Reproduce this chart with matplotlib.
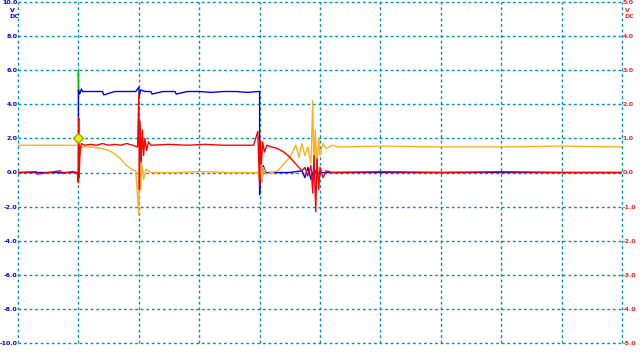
import matplotlib.pyplot as plt

# time in divisions, volts on the left scale (right scale is half)
blue_t = [0, 0.99, 1.0, 1.0, 1.02, 1.05, 1.07, 1.2, 1.4, 1.42, 1.6, 1.8, 1.95, 2.0, 2.01, 2.03, 2.1, 2.2, 2.22, 2.4,
          2.6, 2.62, 2.8, 3.0, 3.2, 3.4, 3.6, 3.8, 3.98, 4.0, 4.0, 4.02, 4.04, 4.06, 4.1, 4.5, 4.7, 4.75, 4.8,
          4.85, 4.9, 4.95, 5.0, 6.0, 8.0, 10]
blue_v = [0, 0, -0.5, 4.85, 4.6, 4.9, 4.75, 4.75, 4.75, 4.55, 4.75, 4.75, 4.75, 5.0, 4.5, 4.85, 4.75, 4.75, 4.6, 4.75,
          4.75, 4.6, 4.75, 4.75, 4.7, 4.75, 4.75, 4.7, 4.75, 4.75, -1.3, 0.8, -0.5, 0.4, 0, 0, 0.1, -0.3, 0.3,
          -0.4, 0.2, -0.1, 0, 0, 0, 0]

# green only shows as the overshoot at the rising edge
green_t = [1.0, 1.0, 1.005]
green_v = [4.75, 6.0, 4.75]

orange_t = [0, 0.5, 0.99, 1.0, 1.01, 1.03, 1.05, 1.2, 1.4, 1.5, 1.6, 1.7, 1.8, 1.9, 1.95, 2.0, 2.01, 2.03, 2.05,
            2.08, 2.12, 2.2, 2.6, 3.0, 3.5, 3.98, 4.0, 4.02, 4.04, 4.06, 4.1, 4.2, 4.3, 4.4, 4.5, 4.6, 4.65, 4.7,
            4.75, 4.8, 4.85, 4.88, 4.9, 4.92, 4.95, 4.98, 5.0, 5.05, 5.1, 5.2, 5.3, 6.0, 7.0, 8.0, 9.0, 10]
orange_v = [1.6, 1.6, 1.6, 0.5, 1.7, 1.1, 1.5, 1.5, 1.4, 1.3, 1.1, 0.8, 0.4, 0.15, 0.1, -2.5, 0.8, -1.0, 0.5,
            -0.4, 0.2, 0, 0, 0.05, 0, 0, -0.5, 1.0, -0.6, 0.3, -0.1, 0, 0.1, 0.5, 0.9, 1.6, 0.9, 1.7,
            1.0, 1.5, 0.5, 4.2, -0.4, 2.5, 0.5, 2.0, 1.0, 1.7, 1.4, 1.6, 1.5, 1.55, 1.5, 1.5, 1.55, 1.5]

red_t = [0, 0.3, 0.32, 0.5, 0.7, 0.72, 0.9, 0.98, 1.0, 1.005, 1.01, 1.03, 1.05, 1.1, 1.2, 1.3, 1.4, 1.5, 1.6, 1.7,
         1.8, 1.9, 1.98, 2.0, 2.01, 2.02, 2.04, 2.06, 2.08, 2.1, 2.13, 2.16, 2.2, 2.5, 2.8, 3.1, 3.4, 3.7, 3.9,
         3.97, 4.0, 4.01, 4.03, 4.05, 4.08, 4.12, 4.2, 4.3, 4.4, 4.5, 4.6, 4.7, 4.75, 4.8, 4.85, 4.88, 4.9,
         4.93, 4.95, 4.98, 5.0, 5.05, 5.1, 5.2, 6.0, 7.0, 8.0, 9.0, 10]
red_v = [0, 0.05, -0.1, 0, 0.1, -0.05, 0.05, 0, -0.6, 3.2, -0.3, 1.4, 1.7, 1.6, 1.65, 1.6, 1.7, 1.6, 1.65, 1.6,
         1.7, 1.6, 1.5, 4.6, -1.0, 3.0, 0.6, 2.5, 1.0, 2.0, 1.3, 1.8, 1.6, 1.65, 1.6, 1.65, 1.6, 1.6, 1.6,
         2.4, -0.8, 1.9, 0.5, 1.8, 1.2, 1.6, 1.5, 1.4, 1.2, 0.9, 0.5, 0.1, 0.3, -0.2, 0.4, -1.2, 1.0,
         -2.3, 0.8, -1.0, 0.3, -0.3, 0.1, 0, 0.05, 0, 0.05, 0, 0]

trigger_t = [1.0]
trigger_v = [2.0]

left_ticks = [-10, -8, -6, -4, -2, 0, 2, 4, 6, 8, 10]
right_ticks = [-5, -4, -3, -2, -1, 0, 1, 2, 3, 4, 5]

fig = plt.figure(figsize=(6.4, 3.6), dpi=100)
ax = fig.add_axes([18 / 640, 17 / 360, 604 / 640, 341 / 360])

ax.plot(green_t, green_v, color='#00c000', lw=1)
ax.plot(blue_t, blue_v, color='#0000ff', lw=1)
ax.plot(orange_t, orange_v, color='#ffb020', lw=1)
ax.plot(red_t, red_v, color='#ff0000', lw=1)
ax.plot(trigger_t, trigger_v, 'D', color='#f0f000', mec='#a0a000', ms=5)

ax.set_xlim(0, 10)
ax.set_ylim(-10, 10)
ax.set_xticks(range(11))
ax.set_yticks(left_ticks)
ax.set_xticklabels([])
ax.set_yticklabels(['%.1f' % v for v in left_ticks])
ax.tick_params(length=0, pad=0.5, labelsize=4.5, labelcolor='#0000ff')
for lab in ax.get_yticklabels():
    lab.set_fontweight('bold')
ax.grid(True, color='#0090b8', ls=(0, (2, 2)), lw=1)
for line in ax.get_xgridlines() + ax.get_ygridlines():
    line.set_clip_on(False)
for s in ax.spines.values():
    s.set_visible(False)

ax2 = ax.twinx()
ax2.set_ylim(-5, 5)
ax2.set_yticks(right_ticks)
ax2.set_yticklabels(['%.1f' % v for v in right_ticks])
ax2.tick_params(length=0, pad=0.5, labelsize=4.5, labelcolor='#ff2020')
for lab in ax2.get_yticklabels():
    lab.set_fontweight('bold')
for s in ax2.spines.values():
    s.set_visible(False)

fig.text(12 / 640, 1 - 11 / 360, 'V', color='#0000ff', fontsize=4.5, fontweight='bold', ha='center', va='center')
fig.text(14 / 640, 1 - 17 / 360, 'DC', color='#0000ff', fontsize=4.5, fontweight='bold', ha='center', va='center')
fig.text(627 / 640, 1 - 11 / 360, 'V', color='#ff2020', fontsize=4.5, fontweight='bold', ha='center', va='center')
fig.text(629 / 640, 1 - 17 / 360, 'DC', color='#ff2020', fontsize=4.5, fontweight='bold', ha='center', va='center')

fig.savefig('out.png', dpi=100)
